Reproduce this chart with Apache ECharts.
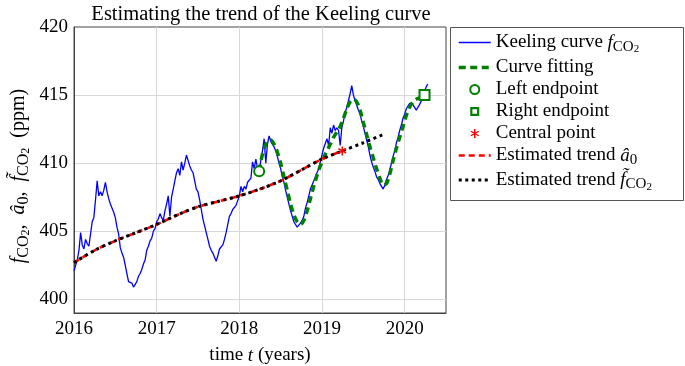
<!DOCTYPE html>
<html>
<head>
<meta charset="utf-8">
<script src="https://cdn.jsdelivr.net/npm/echarts@6/dist/echarts.min.js"></script>
<style>
html,body{margin:0;padding:0;background:#fff;}
#chart{width:685px;height:366px;}
</style>
</head>
<body>
<div id="chart"></div>
<script>
// ---------- data ----------
const xTicks = [2016, 2017, 2018, 2019, 2020];
const yTicks = [400, 405, 410, 415, 420];

// Keeling curve f_CO2 (time in years, ppm)
const keeling = [
[2016.00,402.1],[2016.02,402.5],[2016.04,402.9],[2016.06,403.6],[2016.08,404.9],[2016.10,404.0],
[2016.12,403.7],[2016.14,404.4],[2016.16,404.1],[2016.18,403.9],[2016.20,404.8],[2016.22,405.7],
[2016.24,406.0],[2016.26,407.3],[2016.28,408.7],[2016.30,407.6],[2016.32,407.9],[2016.34,407.6],
[2016.36,408.0],[2016.38,408.6],[2016.40,407.9],[2016.42,407.4],[2016.44,407.0],[2016.46,406.9],
[2016.48,406.4],[2016.50,406.0],[2016.52,405.3],[2016.54,404.8],[2016.56,403.8],[2016.58,403.4],
[2016.60,403.1],[2016.62,402.5],[2016.64,401.9],[2016.66,401.3],[2016.68,401.4],[2016.70,401.2],
[2016.72,400.9],[2016.74,400.8],[2016.76,401.3],[2016.78,401.7],[2016.80,401.9],[2016.82,402.2],
[2016.84,402.6],[2016.86,402.9],[2016.88,403.6],[2016.90,403.9],[2016.92,404.3],[2016.94,404.5],
[2016.96,405.0],[2016.98,405.2],[2017.00,405.7],[2017.02,405.9],[2017.04,406.3],[2017.06,406.0],
[2017.08,405.8],[2017.10,406.5],[2017.12,407.0],[2017.14,407.6],[2017.16,406.1],[2017.18,407.5],
[2017.20,408.1],[2017.22,408.7],[2017.24,409.3],[2017.26,409.6],[2017.28,409.1],[2017.30,410.1],
[2017.32,409.5],[2017.34,410.0],[2017.36,410.6],[2017.38,410.2],[2017.40,409.8],[2017.42,409.5],
[2017.44,409.3],[2017.46,408.7],[2017.48,408.1],[2017.50,407.9],[2017.52,407.3],[2017.54,406.6],
[2017.56,405.9],[2017.58,405.4],[2017.60,404.9],[2017.62,404.4],[2017.64,403.9],[2017.66,403.6],
[2017.68,403.4],[2017.70,403.1],[2017.72,402.8],[2017.74,403.2],[2017.76,403.7],[2017.78,403.8],
[2017.80,404.0],[2017.82,404.4],[2017.84,404.9],[2017.86,405.5],[2017.88,406.1],[2017.90,406.3],
[2017.92,406.6],[2017.94,406.7],[2017.96,406.9],[2017.98,407.0],[2018.00,407.6],[2018.02,408.3],
[2018.04,407.9],[2018.06,408.3],[2018.08,408.1],[2018.10,408.6],[2018.12,408.5],[2018.14,408.9],
[2018.16,410.1],[2018.18,409.6],[2018.20,410.3],[2018.22,409.6],[2018.24,409.4],[2018.26,410.2],
[2018.28,410.9],[2018.30,411.8],[2018.32,410.0],[2018.34,411.4],[2018.36,412.0],[2018.38,411.6],
[2018.40,411.5],[2018.42,411.2],[2018.44,410.9],[2018.46,410.5],[2018.48,410.0],[2018.50,409.6],
[2018.52,409.0],[2018.54,408.6],[2018.56,408.0],[2018.58,407.5],[2018.60,407.0],[2018.62,406.5],
[2018.64,406.1],[2018.66,405.7],[2018.68,405.5],[2018.70,405.3],[2018.72,405.4],[2018.74,405.6],
[2018.76,405.8],[2018.78,406.1],[2018.80,406.7],[2018.82,407.1],[2018.84,407.6],[2018.86,408.1],
[2018.88,408.4],[2018.90,408.7],[2018.92,409.0],[2018.94,409.3],[2018.96,409.6],[2018.98,410.1],
[2019.00,410.6],[2019.02,411.1],[2019.04,411.0],[2019.06,411.8],[2019.08,411.3],[2019.10,412.6],
[2019.12,412.2],[2019.14,412.8],[2019.16,412.4],[2019.18,412.6],[2019.20,412.4],[2019.22,411.3],
[2019.24,412.6],[2019.26,413.1],[2019.28,413.7],[2019.30,414.1],[2019.32,414.6],[2019.34,415.1],
[2019.36,415.7],[2019.38,415.0],[2019.40,414.6],[2019.42,414.5],[2019.44,413.9],[2019.46,413.6],
[2019.48,413.1],[2019.50,412.7],[2019.52,412.2],[2019.54,411.7],[2019.56,411.2],[2019.58,410.6],
[2019.60,410.1],[2019.62,409.7],[2019.64,409.4],[2019.66,409.0],[2019.68,408.8],[2019.70,408.5],
[2019.72,408.3],[2019.74,408.1],[2019.76,408.4],[2019.78,408.8],[2019.80,409.1],[2019.82,409.5],
[2019.84,410.0],[2019.86,410.5],[2019.88,410.9],[2019.90,411.5],[2019.92,411.9],[2019.94,412.4],
[2019.96,412.8],[2019.98,413.3],[2020.00,413.6],[2020.02,414.0],[2020.04,414.2],[2020.06,414.4],
[2020.08,414.5],[2020.10,414.3],[2020.12,414.1],[2020.14,413.9],[2020.16,414.1],[2020.18,414.3],
[2020.20,414.4],[2020.22,414.8],[2020.24,415.3],[2020.26,415.6],[2020.28,415.8]
];

// Curve fitting
const fitting = [
[2018.24,409.4],[2018.27,410.4],[2018.30,411.1],[2018.34,411.6],[2018.38,411.7],[2018.42,411.4],
[2018.46,410.8],[2018.50,410.0],[2018.54,409.0],[2018.58,408.0],[2018.62,407.0],[2018.66,406.2],
[2018.70,405.7],[2018.74,405.5],[2018.78,405.8],[2018.82,406.5],[2018.86,407.4],[2018.90,408.3],
[2018.94,409.1],[2018.98,409.8],[2019.02,410.4],[2019.06,410.9],[2019.10,411.4],[2019.14,411.9],
[2019.18,412.3],[2019.22,412.7],[2019.26,413.3],[2019.30,414.0],[2019.34,414.5],[2019.38,414.7],
[2019.42,414.5],[2019.46,413.9],[2019.50,413.0],[2019.54,412.1],[2019.58,411.2],[2019.62,410.4],
[2019.66,409.6],[2019.70,408.9],[2019.74,408.4],[2019.78,408.5],[2019.82,409.2],[2019.86,410.2],
[2019.90,411.1],[2019.94,411.9],[2019.98,412.7],[2020.02,413.5],[2020.06,414.1],[2020.10,414.5],
[2020.14,414.7],[2020.18,414.8],[2020.24,415.0]
];

const leftEndpoint = [[2018.24, 409.4]];
const rightEndpoint = [[2020.24, 415.0]];
const centralPoint = [[2019.245, 410.9]];

// Estimated trend a0 (hat)
const trendA0 = [
[2016.00,402.7],[2016.25,403.6],[2016.50,404.3],[2016.75,404.9],[2017.00,405.5],[2017.25,406.2],
[2017.50,406.8],[2017.75,407.2],[2018.00,407.6],[2018.25,408.1],[2018.50,408.7],[2018.75,409.5],
[2019.00,410.3],[2019.245,410.9]
];
// Estimated trend f_CO2 (tilde)
const trendF = [
[2016.00,402.7],[2016.25,403.6],[2016.50,404.3],[2016.75,404.9],[2017.00,405.5],[2017.25,406.2],
[2017.50,406.8],[2017.75,407.2],[2018.00,407.6],[2018.25,408.1],[2018.50,408.7],[2018.75,409.5],
[2019.00,410.3],[2019.245,410.9],[2019.50,411.5],[2019.74,412.1]
];

// ---------- chart ----------
const FONT = '"Liberation Serif", "Times New Roman", serif';
const FS = 19;
const richStyles = {
  n: {fontFamily: FONT, fontSize: FS, color: '#000'},
  i: {fontFamily: FONT, fontSize: FS, fontStyle: 'italic', color: '#000'},
  s: {fontFamily: FONT, fontSize: 15, color: '#000', padding: [9, 0, 0, 0]},
  s2: {fontFamily: FONT, fontSize: 11, color: '#000', padding: [14, 0, 0, 0]}
};
const yRich = {
  n: {fontFamily: FONT, fontSize: 20, color: '#000'},
  i: {fontFamily: FONT, fontSize: 20, fontStyle: 'italic', color: '#000'},
  s: {fontFamily: FONT, fontSize: 16, color: '#000', padding: [9, 0, 0, 0]},
  s2: {fontFamily: FONT, fontSize: 12, color: '#000', padding: [14, 0, 0, 0]}
};
const legendLabels = {
  'Keeling curve': '{n|Keeling curve }{i|f}{s|CO}{s2|2}',
  'Curve fitting': '{n|Curve fitting}',
  'Left endpoint': '{n|Left endpoint}',
  'Right endpoint': '{n|Right endpoint}',
  'Central point': '{n|Central point}',
  'Estimated trend a0': '{n|Estimated trend }{i|â}{s|0}',
  'Estimated trend f': '{n|Estimated trend }{i|f\u0303}{s|CO}{s2|2}'
};
const asterisk = 'path://M-0.8,-5L0.8,-5L0.8,5L-0.8,5Z M3.93,-3.19L4.73,-1.81L-3.93,3.19L-4.73,1.81Z M-4.73,-1.81L-3.93,-3.19L4.73,1.81L3.93,3.19Z';
const squareRing = 'path://M0,0H10V10H0Z M2.4,2.4V7.6H7.6V2.4Z';
const hideSym = {opacity: 0};

const chart = echarts.init(document.getElementById('chart'), null, {renderer: 'canvas'});
chart.setOption({
  animation: false,
  backgroundColor: '#fff',
  title: {
    text: 'Estimating the trend of the Keeling curve',
    left: 256, top: -1, textAlign: 'center',
    textStyle: {fontFamily: FONT, fontSize: 20.5, fontWeight: 'normal', color: '#000'}
  },
  grid: {left: 74, right: 239, top: 27, bottom: 53, show: true, borderColor: '#444', borderWidth: 1,
    backgroundColor: 'transparent', containLabel: false, outerBoundsMode: 'none'},
  xAxis: {
    type: 'value', min: 2016, max: 2020.5, interval: 1,
    name: 'time {i|t} (years)', nameLocation: 'middle', nameGap: 33,
    nameTextStyle: {fontFamily: FONT, fontSize: FS, color: '#000', rich: {i: {fontFamily: FONT, fontSize: FS, fontStyle: 'italic', color: '#000'}}},
    axisLine: {show: true, lineStyle: {color: '#444', width: 1}},
    axisTick: {show: false},
    axisLabel: {fontFamily: FONT, fontSize: FS, color: '#000', margin: 7,
      formatter: v => xTicks.indexOf(v) >= 0 ? String(v) : ''},
    splitLine: {show: true, showMaxLine: false, lineStyle: {color: '#d8d8d8', width: 1}}
  },
  yAxis: {
    type: 'value', min: 399, max: 420, interval: 1,
    axisLine: {show: true, lineStyle: {color: '#444', width: 1}},
    axisTick: {show: false},
    axisLabel: {fontFamily: FONT, fontSize: FS, color: '#000', margin: 6,
      formatter: v => yTicks.indexOf(v) >= 0 ? String(v) : ''},
    splitLine: {show: true, showMaxLine: false, lineStyle: {color: ['rgba(0,0,0,0)', '#d8d8d8', 'rgba(0,0,0,0)', 'rgba(0,0,0,0)', 'rgba(0,0,0,0)'], width: 1}}
  },
  legend: {
    orient: 'vertical', left: 457, top: 33, itemGap: 3,
    itemWidth: 32, itemHeight: 9, itemTextGap: 6,
    padding: 0, symbolKeepAspect: true,
    lineStyle: {width: 'inherit'},
    textStyle: {fontFamily: FONT, fontSize: FS, color: '#000', rich: richStyles},
    formatter: name => legendLabels[name] || name,
    data: [
      {name: 'Keeling curve', itemStyle: hideSym},
      {name: 'Curve fitting', itemStyle: hideSym},
      {name: 'Left endpoint', itemStyle: {opacity: 1}},
      {name: 'Right endpoint', icon: squareRing, itemStyle: {color: '#008000', borderWidth: 0, borderColor: 'rgba(0,0,0,0)', opacity: 1}},
      {name: 'Central point', itemStyle: {opacity: 1}},
      {name: 'Estimated trend a0', itemStyle: hideSym},
      {name: 'Estimated trend f', itemStyle: hideSym}
    ]
  },
  graphic: [
    {type: 'rect', shape: {x: 450.5, y: 27.5, width: 233, height: 173}, style: {fill: 'none', stroke: '#555', lineWidth: 1}, silent: true, z: -1},
    {type: 'text', x: 19, y: 176, rotation: Math.PI / 2,
      style: {
        text: '{i|f}{s|CO}{s2|2}{n|,  }{i|â}{s|0}{n|,  }{i|f\u0303}{s|CO}{s2|2}{n|  (ppm)}',
        rich: yRich, align: 'center', verticalAlign: 'middle', fill: '#000',
        fontFamily: FONT, fontSize: 20
      }}
  ],
  series: [
    {name: 'Keeling curve', type: 'line', data: keeling, symbol: 'none', z: 2,
      lineStyle: {color: '#0000ff', width: 1.3}, itemStyle: {color: '#0000ff'}},
    {name: 'Curve fitting', type: 'line', data: fitting, symbol: 'none', z: 3, smooth: 0.3,
      lineStyle: {color: '#008000', width: 3.5, type: [7, 4.5]}, itemStyle: {color: '#008000'}},
    {name: 'Estimated trend a0', type: 'line', data: trendA0, symbol: 'none', z: 4, smooth: 0.3,
      lineStyle: {color: '#ff0000', width: 2.6, type: [6, 4]}, itemStyle: {color: '#ff0000'}},
    {name: 'Estimated trend f', type: 'line', data: trendF, symbol: 'none', z: 5, smooth: 0.3,
      lineStyle: {color: '#000000', width: 3, type: [3, 3.5]}, itemStyle: {color: '#000000'}},
    {name: 'Left endpoint', type: 'scatter', data: leftEndpoint, symbol: 'emptyCircle', symbolSize: 10, z: 6,
      itemStyle: {color: '#008000', borderColor: '#008000', borderWidth: 2.6, opacity: 1}},
    {name: 'Right endpoint', type: 'scatter', data: rightEndpoint, symbol: 'emptyRect', symbolSize: 10, z: 6,
      itemStyle: {color: '#008000', borderColor: '#008000', borderWidth: 2.6, opacity: 1}},
    {name: 'Central point', type: 'scatter', data: centralPoint, symbol: asterisk, symbolSize: 9, z: 6, symbolKeepAspect: true,
      itemStyle: {color: '#ff0000', opacity: 1}}
  ]
});
</script>
</body>
</html>
